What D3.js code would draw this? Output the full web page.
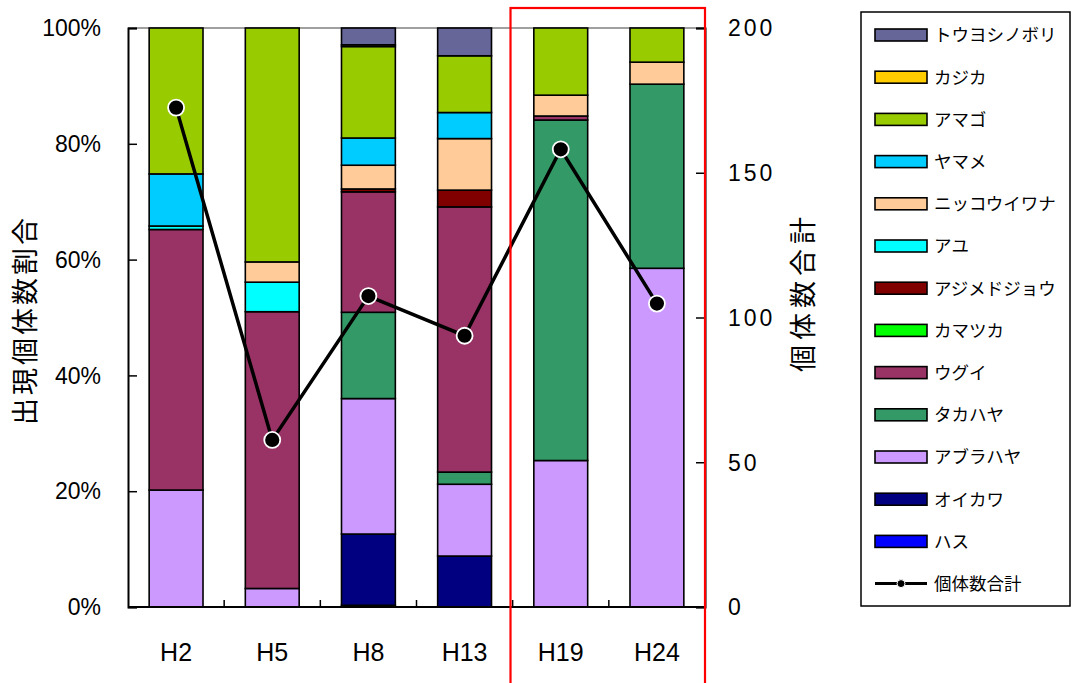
<!DOCTYPE html>
<html><head><meta charset="utf-8">
<script src="https://cdn.jsdelivr.net/npm/d3@7"></script>
<style>
html,body{margin:0;padding:0;background:#fff;}
svg{display:block;}
</style></head>
<body>
<svg id="chart" width="1072" height="683"></svg>
<script>
// ---- data ----
const categories = ["H2","H5","H8","H13","H19","H24"];
// legend order (top to bottom)
const species = ["トウヨシノボリ","カジカ","アマゴ","ヤマメ","ニッコウイワナ","アユ","アジメドジョウ","カマツカ","ウグイ","タカハヤ","アブラハヤ","オイカワ","ハス"];
const colors  = ["#666699","#FFCC00","#99CC00","#00CCFF","#FFCC99","#00FFFF","#800000","#00FF00","#993366","#339966","#CC99FF","#000080","#0000FF"];
// percentage share per species, per category
const touyoshinobori = [0,0,2.9,4.8,0,0];
const kajika         = [0,0,0.3,0,0,0];
const amago          = [25.2,40.4,15.8,9.8,11.6,5.9];
const yamame         = [9.0,0,4.7,4.5,0,0];
const nikkouiwana    = [0,3.5,4.1,8.9,3.6,3.8];
const ayu            = [0.6,5.1,0,0,0,0];
const ajimedojou     = [0,0,0.5,2.9,0,0];
const kamatsuka      = [0,0,0,0,0,0];
const ugui           = [45.0,47.8,20.8,45.8,0.7,0];
const takahaya       = [0,0,14.9,2.1,58.8,31.8];
const aburahaya      = [20.2,3.2,23.4,12.4,25.3,58.5];
const oikawa         = [0,0,12.3,8.8,0,0];
const hasu           = [0,0,0.3,0,0,0];
const totals = [172.5,57.7,107.4,93.7,158.1,104.8];
const leftTicks = [0,20,40,60,80,100];
const rightTicks = [0,50,100,150,200];
const seriesValues = [touyoshinobori,kajika,amago,yamame,nikkouiwana,ayu,ajimedojou,kamatsuka,ugui,takahaya,aburahaya,oikawa,hasu];

// ---- layout ----
const svg = d3.select("#chart");
const L = 128, R = 705, T = 28, B = 607;
const numFont = "'Liberation Sans', Arial, sans-serif";
const jpFont = "'Noto Sans CJK JP', sans-serif";

const x = d3.scaleBand().domain(categories).range([L,R]).paddingInner(0.44).paddingOuter(0.22);
const yL = d3.scaleLinear().domain([0,100]).range([B,T]);
const yR = d3.scaleLinear().domain([0,200]).range([B,T]);

// stack: bottom = last species in legend
const stackKeys = species.slice().reverse();
const rows = categories.map((c,i)=>{
  const o = {cat:c};
  species.forEach((s,j)=>{ o[s] = seriesValues[j][i]; });
  return o;
});
const stacked = d3.stack().keys(stackKeys)(rows);
const colorOf = d3.scaleOrdinal().domain(species).range(colors);

// top gridline
svg.append("line").attr("x1",L).attr("x2",R).attr("y1",yL(100)).attr("y2",yL(100))
  .attr("stroke","#808080").attr("stroke-width",1.5);

// bars
const layers = svg.append("g").selectAll("g").data(stacked).join("g")
  .attr("fill", d=>colorOf(d.key));
layers.selectAll("rect").data(d=>d.filter(p=>p[1]-p[0]>0)).join("rect")
  .attr("x", d=>x(d.data.cat))
  .attr("width", x.bandwidth())
  .attr("y", d=>yL(d[1]))
  .attr("height", d=>yL(d[0])-yL(d[1]))
  .attr("stroke","#000").attr("stroke-width",1.6);

// axes
const axL = svg.append("g").attr("transform",`translate(${L},0)`)
  .call(d3.axisRight(yL).tickValues(leftTicks).tickSize(9).tickFormat(""));
const axR = svg.append("g").attr("transform",`translate(${R},0)`)
  .call(d3.axisLeft(yR).tickValues(rightTicks).tickSize(9).tickFormat(""));
[axL,axR].forEach(a=>{ a.select(".domain").attr("stroke","#000").attr("stroke-width",2);
  a.selectAll(".tick line").attr("stroke","#000").attr("stroke-width",1.5); });
// bottom axis line
svg.append("line").attr("x1",L).attr("x2",R).attr("y1",B).attr("y2",B)
  .attr("stroke","#000").attr("stroke-width",2);
// category boundary ticks
const bounds = d3.range(1,categories.length).map(i=>x.range()[0]+i*x.step());
svg.append("g").selectAll("line").data(bounds).join("line")
  .attr("x1",d=>d).attr("x2",d=>d).attr("y1",B).attr("y2",B-7)
  .attr("stroke","#000").attr("stroke-width",1.5);

// left tick labels
svg.append("g").selectAll("text").data(leftTicks).join("text")
  .attr("x",101).attr("y",d=>yL(d)).attr("dy","0.36em")
  .attr("text-anchor","end").attr("font-family",numFont).attr("font-size",23)
  .attr("fill","#000").text(d=>d+"%");
// right tick labels
svg.append("g").selectAll("text").data(rightTicks).join("text")
  .attr("x",728).attr("y",d=>yR(d)).attr("dy","0.36em")
  .attr("text-anchor","start").attr("font-family",numFont).attr("font-size",23)
  .attr("letter-spacing","3px").attr("fill","#000").text(d=>d);
// category labels
svg.append("g").selectAll("text").data(categories).join("text")
  .attr("x",d=>x(d)+x.bandwidth()/2).attr("y",661)
  .attr("text-anchor","middle").attr("font-family",numFont).attr("font-size",25)
  .attr("fill","#000").text(d=>d);

// axis titles
svg.append("text").attr("transform","translate(35,320) rotate(-90)")
  .attr("text-anchor","middle").attr("font-family",jpFont).attr("font-size",27)
  .attr("letter-spacing","3px").attr("fill","#000").text("出現個体数割合");
svg.append("text").attr("transform","translate(813,292) rotate(-90)")
  .attr("text-anchor","middle").attr("font-family",jpFont).attr("font-size",27)
  .attr("letter-spacing","5px").attr("fill","#000").text("個体数合計");

// total line
const cx = d=>x(d)+x.bandwidth()/2;
const line = d3.line().x((d,i)=>cx(categories[i])).y(d=>yR(d));
svg.append("path").datum(totals).attr("d",line).attr("fill","none")
  .attr("stroke","#000").attr("stroke-width",3.5);
svg.append("g").selectAll("circle").data(totals).join("circle")
  .attr("cx",(d,i)=>cx(categories[i])).attr("cy",d=>yR(d)).attr("r",8)
  .attr("fill","#000").attr("stroke","#fff").attr("stroke-width",1.8);

// red highlight rectangle around H19, H24
const rLeft = x("H13")+x.bandwidth()+19;
svg.append("rect").attr("x", rLeft).attr("y",8)
  .attr("width", R - rLeft).attr("height",700)
  .attr("fill","none").attr("stroke","#FF0000").attr("stroke-width",2.2);

// legend
const lg = svg.append("g");
lg.append("rect").attr("x",861).attr("y",12).attr("width",209).attr("height",594)
  .attr("fill","#fff").attr("stroke","#000").attr("stroke-width",1.5);
const rowY = i=>35+i*42.2;
species.forEach((s,i)=>{
  lg.append("rect").attr("x",875).attr("y",rowY(i)-6).attr("width",52).attr("height",12)
    .attr("fill",colors[i]).attr("stroke","#000").attr("stroke-width",1.6);
  lg.append("text").attr("x",934).attr("y",rowY(i)).attr("dy","0.36em")
    .attr("font-family",jpFont).attr("font-size",17.5).attr("fill","#000").text(s);
});
const li = species.length;
lg.append("line").attr("x1",875).attr("x2",927).attr("y1",rowY(li)).attr("y2",rowY(li))
  .attr("stroke","#000").attr("stroke-width",3);
lg.append("circle").attr("cx",901).attr("cy",rowY(li)).attr("r",4)
  .attr("fill","#000").attr("stroke","#fff").attr("stroke-width",1);
lg.append("text").attr("x",934).attr("y",rowY(li)).attr("dy","0.36em")
  .attr("font-family",jpFont).attr("font-size",17.5).attr("fill","#000").text("個体数合計");
</script>
</body></html>
